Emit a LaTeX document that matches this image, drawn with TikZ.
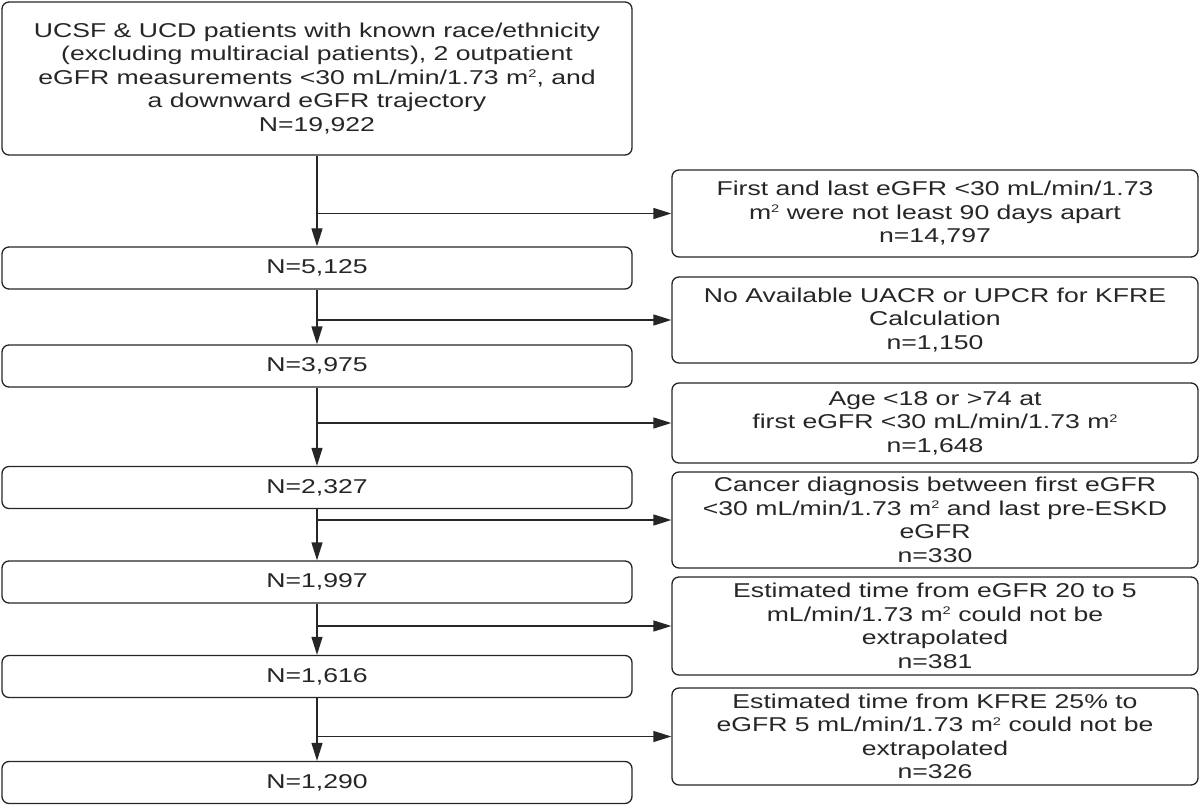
\documentclass[tikz,border=0pt]{standalone}
\usepackage{fontspec}
\setmainfont[FakeStretch=1.33]{Liberation Sans}
\usetikzlibrary{arrows.meta}
\newcommand{\fs}{\fontsize{20}{23.5}\selectfont}
\newcommand{\msq}{m{\fontsize{11}{11}\selectfont\raisebox{6.5pt}{2}}}
\definecolor{ink}{HTML}{262626}
\tikzset{
  box/.style={draw=ink, line width=1.3pt, rounded corners=7pt, align=center, inner sep=0pt, font=\fs, text=ink},
  lbox/.style={box, minimum width=630pt},
  rbox/.style={box, minimum width=526pt},
  flow/.style={draw=ink, line width=1.3pt, -{Triangle[length=18pt,width=11pt]}}
}
\begin{document}
\begin{tikzpicture}[x=1pt,y=-1pt]
\useasboundingbox (0,0) rectangle (1200,805);
% left column
\node[lbox, minimum height=153pt] (L0) at (317,78.5) {UCSF \& UCD patients with known race/ethnicity\\(excluding multiracial patients), 2 outpatient\\eGFR measurements <30 mL/min/1.73 \msq, and\\a downward eGFR trajectory\\N=19,922};
\node[lbox, minimum height=42pt] (L1) at (317,268) {N=5,125};
\node[lbox, minimum height=42pt] (L2) at (317,366) {N=3,975};
\node[lbox, minimum height=42pt] (L3) at (317,487.5) {N=2,327};
\node[lbox, minimum height=42pt] (L4) at (317,582) {N=1,997};
\node[lbox, minimum height=42pt] (L5) at (317,676.5) {N=1,616};
\node[lbox, minimum height=42pt] (L6) at (317,782.5) {N=1,290};
% right column
\node[rbox, minimum height=87pt] (R1) at (935,213.5) {First and last eGFR <30 mL/min/1.73\\\msq{} were not least 90 days apart\\n=14,797};
\node[rbox, minimum height=86pt] (R2) at (935,320) {No Available UACR or UPCR for KFRE\\Calculation\\n=1,150};
\node[rbox, minimum height=80pt] (R3) at (935,423) {Age <18 or >74 at\\first eGFR <30 mL/min/1.73 \msq\\n=1,648};
\node[rbox, minimum height=96pt] (R4) at (935,520) {Cancer diagnosis between first eGFR\\<30 mL/min/1.73 \msq{} and last pre-ESKD\\eGFR\\n=330};
\node[rbox, minimum height=98pt] (R5) at (935,626) {Estimated time from eGFR 20 to 5\\mL/min/1.73 \msq{} could not be\\extrapolated\\n=381};
\node[rbox, minimum height=97pt] (R6) at (935,736.5) {Estimated time from KFRE 25\% to\\eGFR 5 mL/min/1.73 \msq{} could not be\\extrapolated\\n=326};
% vertical arrows
\draw[flow] (L0.south) -- (L1.north);
\draw[flow] (L1.south) -- (L2.north);
\draw[flow] (L2.south) -- (L3.north);
\draw[flow] (L3.south) -- (L4.north);
\draw[flow] (L4.south) -- (L5.north);
\draw[flow] (L5.south) -- (L6.north);
% exclusion arrows
\draw[flow] (L0.south |- R1.west) -- (R1.west);
\draw[flow] (L1.south |- R2.west) -- (R2.west);
\draw[flow] (L2.south |- R3.west) -- (R3.west);
\draw[flow] (L3.south |- R4.west) -- (R4.west);
\draw[flow] (L4.south |- R5.west) -- (R5.west);
\draw[flow] (L5.south |- R6.west) -- (R6.west);
\end{tikzpicture}
\end{document}
